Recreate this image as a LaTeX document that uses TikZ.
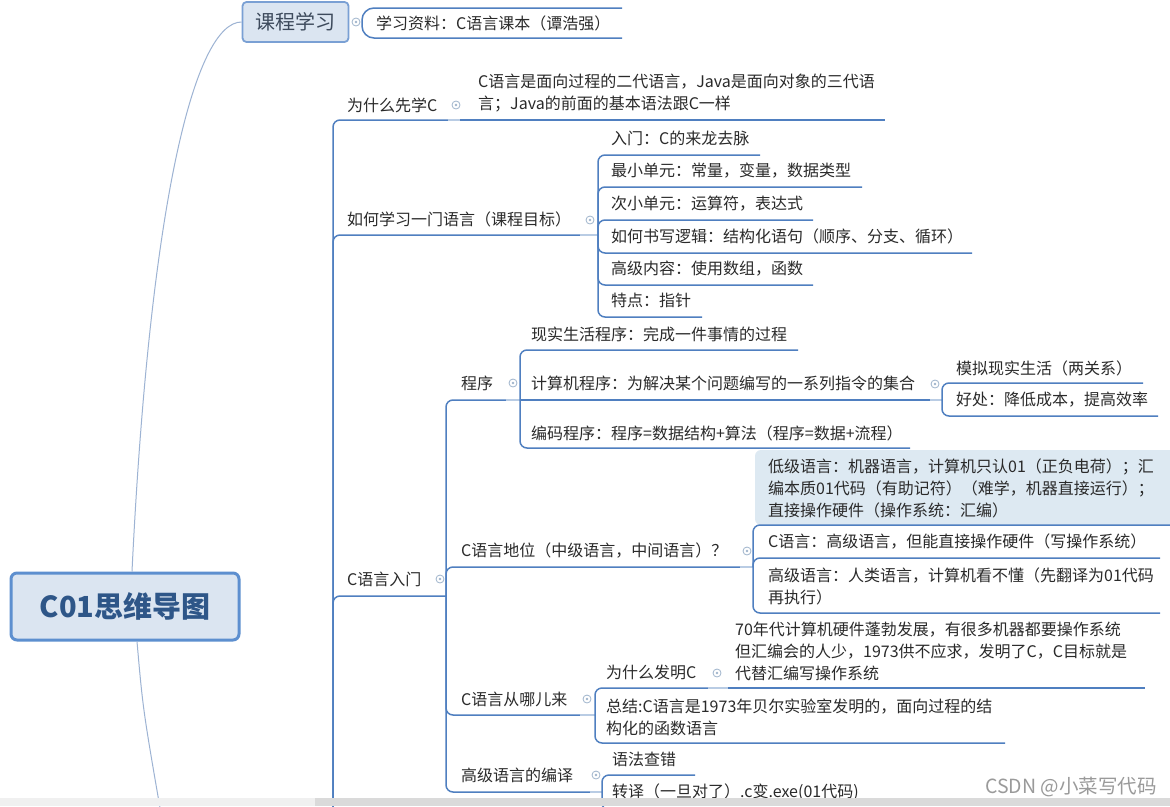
\documentclass[tikz,border=0pt]{standalone}
\usepackage{fontspec}
\setmainfont{Noto Sans CJK SC}
\definecolor{txt}{HTML}{2A2A2A}
\definecolor{lb}{HTML}{4F7FC0}
\definecolor{lnk}{HTML}{B9CCE4}
\definecolor{cg}{HTML}{9FB4CC}
\definecolor{rfill}{HTML}{DBE5F1}
\definecolor{rdraw}{HTML}{5D8FCF}
\definecolor{rtext}{HTML}{2E5688}
\definecolor{kdraw}{HTML}{7AA0D4}
\definecolor{ktext}{HTML}{3D4A5C}
\definecolor{hl}{HTML}{DDE9F2}
\definecolor{rln}{HTML}{9DB3D3}
\definecolor{wm}{HTML}{9A9A9A}
\definecolor{barA}{HTML}{F0F0F0}
\definecolor{barB}{HTML}{DADADA}
\newcommand\fsn{\fontsize{16}{22}\selectfont}
\begin{document}
\begin{tikzpicture}[x=1pt,y=-1pt,
  tx/.style={anchor=west, inner sep=0pt, align=left, text=txt, font=\fsn},
  ul/.style={draw=lb, line width=1.5pt, rounded corners=7pt},
  lk/.style={draw=lnk, line width=1.5pt},
  cc/.style={circle, draw=cg, fill=white, minimum size=8pt, inner sep=0pt, line width=0.8pt},
  rootln/.style={draw=rln, line width=1pt},
  rootbox/.style={draw=rdraw, line width=3pt, fill=rfill, rounded corners=6pt,
    minimum width=228pt, minimum height=67pt, text=rtext, inner sep=0pt,
    font=\fontsize{29}{30}\selectfont\bfseries},
  kbox/.style={draw=kdraw, line width=1.8pt, fill=rfill, rounded corners=4pt,
    minimum width=106pt, minimum height=40pt, text=ktext, inner sep=0pt,
    font=\fontsize{20}{22}\selectfont}]
\useasboundingbox (0,0) rectangle (1170,806);
\clip (0,0) rectangle (1170,806);
\fill[white] (0,0) rectangle (1170,806);

% root and main topic
\node[rootbox] (root) at (125,606.5) {C01思维导图};
\node[kbox] (kc) at (295.5,22) {课程学习};
\draw[rootln] ([xshift=7pt]root.north) .. controls (150,200) and (195,22) .. (kc.west);
\coordinate (rdown) at (163,825);
\draw[rootln] ([xshift=12pt]root.south) .. controls (143,710) .. (rdown);

% 课程学习 child
\node[cc] (kcc) at (356,22) {};
\node[tx] (zl) at (376,23) {学习资料：C语言课本（谭浩强）};
\draw[ul, rounded corners=12pt] (622,8) -- (362,8) -- (362,38) -- (622,38);

% spine of level 1 (parent below the view)
\coordinate (sp) at (333,830);

% 为什么先学C
\node[tx] (n1) at (347,105) {为什么先学C};
\draw[ul] (sp) -- (333,120) -- (448,120);
\draw[lk] (448,120) -- (460,120);
\node[cc] (n1c) at (456,105) {};
\node[tx] (n1a) at (478,93.5) {C语言是面向过程的二代语言，Java是面向对象的三代语\\言；Java的前面的基本语法跟C一样};
\draw[ul] (460,120) -- (885,120);

% 如何学习一门语言
\node[tx] (n2) at (347,219) {如何学习一门语言（课程目标）};
\draw[ul] (sp) -- (333,235) -- (580,235);
\draw[lk] (580,235) -- (598,235);
\node[cc] (n2c) at (590,220) {};
\coordinate (j2) at (598,235);
\node[tx] (n2a) at (611,138) {入门：C的来龙去脉};
\draw[ul] (j2) -- (598,155) -- (760,155);
\node[tx] (n2b) at (611,171) {最小单元：常量，变量，数据类型};
\draw[ul] (j2) -- (598,187) -- (862,187);
\node[tx] (n2c2) at (611,204) {次小单元：运算符，表达式};
\draw[ul] (j2) -- (598,220) -- (813,220);
\node[tx] (n2d) at (611,236) {如何书写逻辑：结构化语句（顺序、分支、循环）};
\draw[ul] (j2) -- (598,253) -- (972,253);
\node[tx] (n2e) at (611,269) {高级内容：使用数组，函数};
\draw[ul] (j2) -- (598,285) -- (813,285);
\node[tx] (n2f) at (611,300) {特点：指针};
\draw[ul] (j2) -- (598,317) -- (702,317);

% C语言入门
\node[tx] (n3) at (347,579) {C语言入门};
\draw[ul] (sp) -- (333,596) -- (446,596);
\node[cc] (n3c) at (440,579) {};
\coordinate (j3) at (446,596);

% 程序
\node[tx] (p) at (461,383) {程序};
\draw[ul] (j3) -- (446,400) -- (506,400);
\draw[lk] (506,400) -- (520,400);
\node[cc] (pc) at (513,383) {};
\coordinate (jp) at (520,400);
\node[tx] (pa) at (531,334) {现实生活程序：完成一件事情的过程};
\draw[ul] (jp) -- (520,350) -- (798,350);
\node[tx] (pb) at (531,383) {计算机程序：为解决某个问题编写的一系列指令的集合};
\draw[ul] (jp) -- (930,400);
\draw[lk] (930,400) -- (942,400);
\node[cc] (pbc) at (935,384) {};
\coordinate (jpb) at (942,400);
\node[tx] (pb1) at (956,368) {模拟现实生活（两关系）};
\draw[ul] (jpb) -- (942,383) -- (1143,383);
\node[tx] (pb2) at (956,400) {好处：降低成本，提高效率};
\draw[ul] (jpb) -- (942,416) -- (1158,416);
\node[tx] (pcx) at (531,433) {编码程序：程序=数据结构+算法（程序=数据+流程）};
\draw[ul] (jp) -- (520,448) -- (910,448);

% C语言地位
\node[tx] (q) at (461,551) {C语言地位（中级语言，中间语言）？};
\draw[ul] (j3) -- (446,567) -- (740,567);
\draw[lk] (740,567) -- (753,567);
\node[cc] (qc) at (747,551) {};
\coordinate (jq) at (753,567);
\fill[hl, rounded corners=6pt] (755,450) rectangle (1185,525);
\node[tx] (qa) at (768,488) {低级语言：机器语言，计算机只认01（正负电荷）；汇\\编本质01代码（有助记符）（难学，机器直接运行）；\\直接操作硬件（操作系统：汇编）};
\draw[ul] (jq) -- (753,525) -- (1175,525);
\node[tx] (qb) at (768,542) {C语言：高级语言，但能直接操作硬件（写操作系统）};
\draw[ul] (jq) -- (753,558) -- (1160,558);
\node[tx] (qd) at (768,586) {高级语言：人类语言，计算机看不懂（先翻译为01代码\\再执行）};
\draw[ul] (jq) -- (753,613) -- (1160,613);

% C语言从哪儿来
\node[tx] (r) at (461,699) {C语言从哪儿来};
\draw[ul] (j3) -- (446,715) -- (580,715);
\draw[lk] (580,715) -- (595,715);
\node[cc] (rc) at (587,699) {};
\coordinate (jr) at (595,715);
\node[tx] (ra) at (606,672) {为什么发明C};
\draw[ul] (jr) -- (595,688) -- (708,688);
\draw[lk] (708,688) -- (728,688);
\node[cc] (rac) at (717,673) {};
\node[tx] (ra1) at (735,651) {70年代计算机硬件蓬勃发展，有很多机器都要操作系统\\但汇编会的人少，1973供不应求，发明了C，C目标就是\\代替汇编写操作系统};
\draw[ul] (728,688) -- (1145,688);
\node[tx] (rb) at (606,717) {总结:C语言是1973年贝尔实验室发明的，面向过程的结\\构化的函数语言};
\draw[ul] (jr) -- (595,743) -- (1005,743);

% 高级语言的编译
\node[tx] (s) at (461,775) {高级语言的编译};
\draw[ul] (j3) -- (446,792) -- (590,792);
\draw[lk] (590,792) -- (602,792);
\node[cc] (sc) at (596,775) {};
\coordinate (js) at (602,792);
\node[tx] (sa) at (612,759) {语法查错};
\draw[ul] (js) -- (602,775) -- (695,775);
\node[tx] (sb) at (612,792) {转译（一旦对了）.c变.exe(01代码)};
\draw[ul] (js) -- (602,810) -- (880,810);

% collapse marks
\foreach \c in {kcc,n1c,n2c,n3c,pc,pbc,qc,rc,rac,sc} \fill[cg] (\c) circle (1.3pt);

% watermark and bottom bar
\node[anchor=west, inner sep=0pt, text=wm, font=\fontsize{19.5}{20}\selectfont] (wmk) at (985,787) {CSDN @小菜写代码};
\fill[barA] (0,798) rectangle (1170,806);
\fill[barB] (315,798) rectangle (1170,806);
\end{tikzpicture}
\end{document}
